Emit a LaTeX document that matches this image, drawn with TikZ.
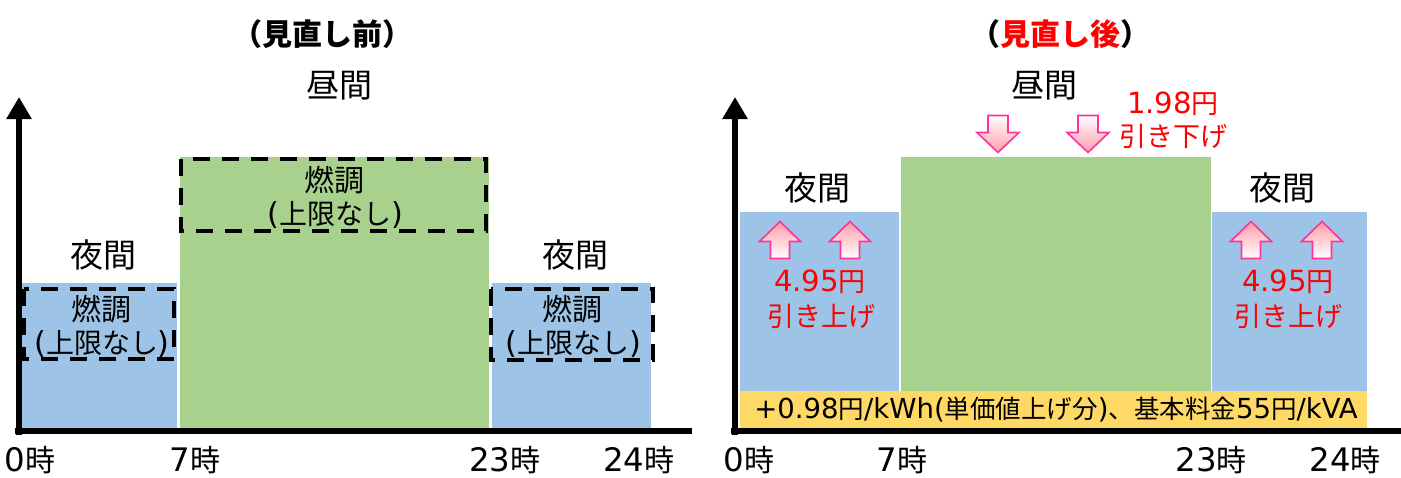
\documentclass[tikz,border=0pt]{standalone}
\usepackage{fontspec}
\newfontfamily\jp{Noto Sans CJK JP}
\newfontfamily\lat{DejaVu Sans}
\makeatletter
\newdimen\latdim
\newcommand\latn[1]{{\latdim=\f@size pt\relax\latdim=1.08\latdim
  \lat\fontsize{\strip@pt\latdim}{\strip@pt\latdim}\selectfont #1}}
\makeatother
\usetikzlibrary{arrows.meta}
\definecolor{nightblue}{HTML}{9DC3E6}
\definecolor{daygreen}{HTML}{A9D18E}
\definecolor{bandyellow}{HTML}{FFD966}
\definecolor{arrline}{HTML}{FF3399}
\definecolor{arrfill}{HTML}{FF9CA8}
\definecolor{redtxt}{HTML}{FF0000}
\begin{document}
\begin{tikzpicture}[x=1pt,y=-1pt,
  txt/.style={inner sep=0pt, font=\jp\fontsize{#1}{#1}\selectfont},
  rtxt/.style={txt=#1, text=redtxt},
  ttl/.style={inner sep=0pt, font=\jp\bfseries\fontsize{#1}{#1}\selectfont},
  axisline/.style={line width=6.5pt, black},
  yaxis/.style={axisline, -{Triangle[width=24pt,length=22pt]}},
  dashbox/.style={draw=black, line width=4.5pt, dash pattern=on 17pt off 12pt},
  blockarrow/.style={draw=arrline, line width=1.6pt, line join=miter},
  uparrow/.pic={\path[blockarrow, top color=arrfill, bottom color=white]
     (0,-18.5) -- (20.5,1.5) -- (9.5,1.5) -- (9.5,18.5) -- (-9.5,18.5) -- (-9.5,1.5) -- (-20.5,1.5) -- cycle;},
  downarrow/.pic={\path[blockarrow, top color=white, bottom color=arrfill]
     (0,18.5) -- (21,-1.5) -- (10,-1.5) -- (10,-18.5) -- (-10,-18.5) -- (-10,-1.5) -- (-21,-1.5) -- cycle;}
]
\useasboundingbox[fill=white] (0,0) rectangle (1401,477);

% ---------------- left panel ----------------
\fill[nightblue] (22,283) rectangle (177,428);
\fill[daygreen] (180,157) rectangle (489,428);
\fill[nightblue] (492,283) rectangle (651,428);
\draw[dashbox] (181,159) rectangle (486,231);
\draw[dashbox] (24,289) rectangle (174,359);
\draw[dashbox] (491,289) rectangle (653,360);

\coordinate (lo) at (19,435);
\coordinate (ltop) at (19,97);
\coordinate (lxs) at (15,431);
\coordinate (lxe) at (692,431);
\draw[yaxis] (lo) -- (ltop);
\draw[axisline] (lxs) -- (lxe);

\node[ttl=30] (ltitle) at (322,34) {（見直し前）};
\node[txt=33] (lday) at (339,86) {昼間};
\node[txt=33] (lnight1) at (103,255) {夜間};
\node[txt=33] (lnight2) at (575,255) {夜間};
\node[txt=30] (lfc0) at (334,180) {燃調};
\node[txt=28] (lfc0b) at (335,215) {\latn{(}上限なし\latn{)}};
\node[txt=30] (lfc1) at (101,309) {燃調};
\node[txt=28] (lfc1b) at (102,344) {\latn{(}上限なし\latn{)}};
\node[txt=30] (lfc2) at (572,309) {燃調};
\node[txt=28] (lfc2b) at (573,344) {\latn{(}上限なし\latn{)}};

\node[txt=30] (lt0) at (30,460) {\latn{0}時};
\node[txt=30] (lt7) at (195,460) {\latn{7}時};
\node[txt=30] (lt23) at (505,460) {\latn{23}時};
\node[txt=30] (lt24) at (639,460) {\latn{24}時};

% ---------------- right panel ----------------
\fill[nightblue] (740,212) rectangle (899,428);
\fill[daygreen] (901,157) rectangle (1211,428);
\fill[nightblue] (1212,212) rectangle (1367,428);
\fill[bandyellow] (740,391) rectangle (1367,428);

\coordinate (ro) at (735,435);
\coordinate (rtop) at (735,97);
\coordinate (rxs) at (731,431);
\coordinate (rxe) at (1401,431);
\draw[yaxis] (ro) -- (rtop);
\draw[axisline] (rxs) -- (rxe);

\node[ttl=30] (rtitle) at (1060,34) {（\textcolor{redtxt}{見直し後}）};
\node[txt=33] (rday) at (1044,86) {昼間};
\node[txt=33] (rnight1) at (817,188) {夜間};
\node[txt=33] (rnight2) at (1282,188) {夜間};

\pic (ua1) at (780,240) {uparrow};
\pic (ua2) at (850,240) {uparrow};
\pic (ua3) at (1251,240) {uparrow};
\pic (ua4) at (1322,240) {uparrow};
\pic (da1) at (998,134) {downarrow};
\pic (da2) at (1088,134) {downarrow};

\node[rtxt=27] (rup1) at (820,282) {\latn{4.95}円};
\node[rtxt=27] (rup1b) at (821,316) {引き上げ};
\node[rtxt=27] (rup2) at (1288,282) {\latn{4.95}円};
\node[rtxt=27] (rup2b) at (1288,316) {引き上げ};
\node[rtxt=27] (rdown) at (1173,104) {\latn{1.98}円};
\node[rtxt=27] (rdownb) at (1173,136) {引き下げ};

\node[txt=25.5] (band) at (1056,410) {\latn{+0.98}円\latn{/kWh(}単価値上げ分\latn{)}、基本料金\latn{55}円\latn{/kVA}};

\node[txt=30] (rt0) at (749,460) {\latn{0}時};
\node[txt=30] (rt7) at (902,460) {\latn{7}時};
\node[txt=30] (rt23) at (1211,460) {\latn{23}時};
\node[txt=30] (rt24) at (1345,460) {\latn{24}時};
\end{tikzpicture}
\end{document}
